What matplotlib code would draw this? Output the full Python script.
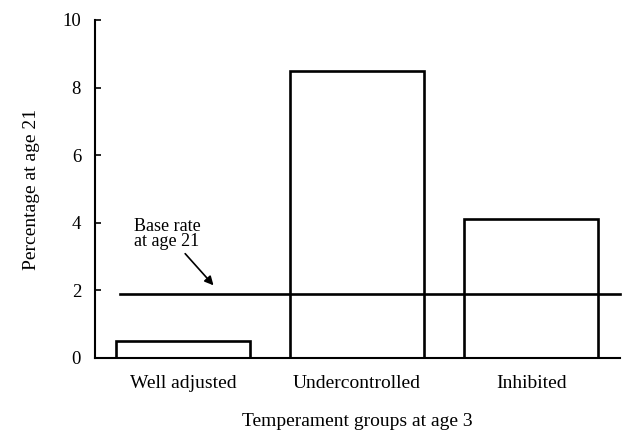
import matplotlib
matplotlib.use("Agg")
import matplotlib.pyplot as plt

categories = ["Well adjusted", "Undercontrolled", "Inhibited"]
values = [0.5, 8.5, 4.1]
base_rate = 1.9
yticks = [0, 2, 4, 6, 8, 10]

plt.rcParams['font.family'] = ['Liberation Serif', 'DejaVu Serif']

fig = plt.figure(figsize=(6.26, 4.34), dpi=100)
ax = fig.add_axes([95/626, 1-358/434, (620-95)/626, (358-20)/434])

x = list(range(len(categories)))
ax.bar(x, values, width=0.77, facecolor='white', edgecolor='black', linewidth=1.9, zorder=2)
ax.plot([-0.362, 2.511], [base_rate, base_rate], color='black', linewidth=1.9, zorder=3, clip_on=False)

ax.set_xlim(-0.506, 2.511)
ax.set_ylim(0, 10)
ax.set_yticks(yticks)
ax.set_yticklabels([str(t) for t in yticks], fontsize=13.5)
ax.tick_params(axis='y', direction='in', length=4, width=1.2, pad=10)
ax.set_xticks(x)
ax.set_xticklabels(categories, fontsize=14)
ax.tick_params(axis='x', length=0, pad=12)

for s in ['top', 'right']:
    ax.spines[s].set_visible(False)
for s in ['left', 'bottom']:
    ax.spines[s].set_linewidth(1.5)

ax.set_ylabel("Percentage at age 21", fontsize=14, labelpad=16)
ax.set_xlabel("Temperament groups at age 3", fontsize=14, labelpad=15)

ax.annotate("Base rate\nat age 21", xy=(0.175, 2.15), xytext=(-0.28, 3.2),
            fontsize=13, ha='left', va='bottom', linespacing=0.8,
            arrowprops=dict(arrowstyle='-|>', color='black', lw=1.2, mutation_scale=13,
                            shrinkA=1, shrinkB=0),
            textcoords='data')

fig.savefig("out.png", dpi=100)
